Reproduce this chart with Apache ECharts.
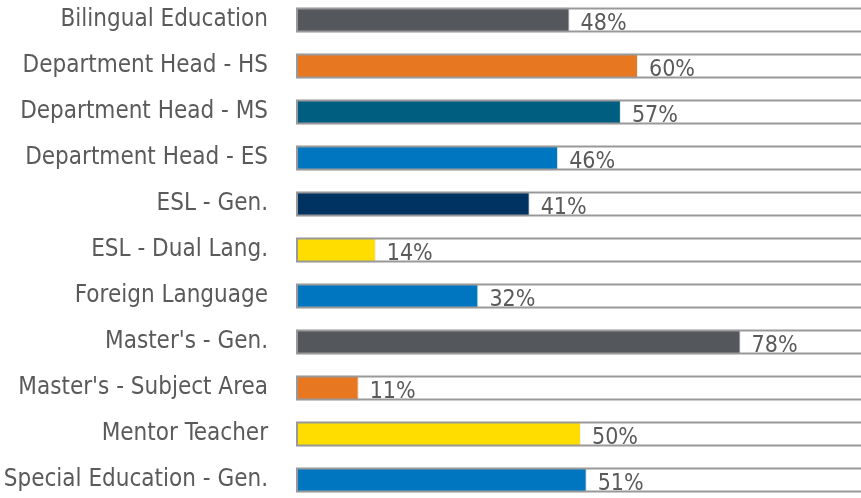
<!DOCTYPE html>
<html>
<head>
<meta charset="utf-8">
<script src="https://cdn.jsdelivr.net/npm/echarts@6/dist/echarts.min.js"></script>
<style>
  html, body { margin: 0; padding: 0; background: #fff; }
  #chart { width: 861px; height: 498px; }
</style>
</head>
<body>
<div id="chart"></div>
<script>
  // categories, top to bottom
  var categories = [
    'Bilingual Education', 'Department Head - HS', 'Department Head - MS',
    'Department Head - ES', 'ESL - Gen.', 'ESL - Dual Lang.', 'Foreign Language',
    "Master's - Gen.", "Master's - Subject Area", 'Mentor Teacher',
    'Special Education - Gen.'
  ];
  var percents = [48, 60, 57, 46, 41, 14, 32, 78, 11, 50, 51];
  var barColors = [
    '#54575c', '#e87722', '#005e80', '#0076c0', '#003262', '#ffdd00',
    '#0076c0', '#54575c', '#e87722', '#ffdd00', '#0076c0'
  ];
  var fullValues = [100, 100, 100, 100, 100, 100, 100, 100, 100, 100, 100];

  var chartDom = document.getElementById('chart');
  var myChart = echarts.init(chartDom);
  var font = '"Liberation Sans Narrow", "DejaVu Sans Condensed", sans-serif';

  var option = {
    animation: false,
    grid: {
      left: 296,
      right: -5,
      top: -3,
      bottom: -5,
      outerBoundsMode: 'none'
    },
    xAxis: {
      type: 'value',
      min: 0,
      max: 100,
      show: false
    },
    yAxis: {
      type: 'category',
      inverse: true,
      data: categories,
      axisLine: { show: false },
      axisTick: { show: false },
      axisLabel: {
        margin: 28,
        color: '#5a5a5a',
        fontSize: 24,
        fontFamily: font
      }
    },
    series: [
      {
        name: 'pct',
        type: 'bar',
        barWidth: 25,
        z: 2,
        data: percents.map(function (v, i) {
          return { value: v, itemStyle: { color: barColors[i] } };
        }),
        itemStyle: {
          borderColor: '#f2f2f2',
          borderWidth: 1
        },
        label: {
          show: true,
          position: 'right',
          distance: 11,
          offset: [0, 4],
          formatter: '{c}%',
          color: '#5a5a5a',
          fontSize: 23,
          fontFamily: font
        }
      },
      {
        // outline of the full 100% box, drawn over the coloured bar
        name: 'outline',
        type: 'bar',
        silent: true,
        barWidth: 25,
        barGap: '-100%',
        z: 3,
        data: fullValues,
        itemStyle: {
          color: 'rgba(0,0,0,0)',
          borderColor: '#999999',
          borderWidth: 2
        }
      }
    ]
  };

  option && myChart.setOption(option);
</script>
</body>
</html>
